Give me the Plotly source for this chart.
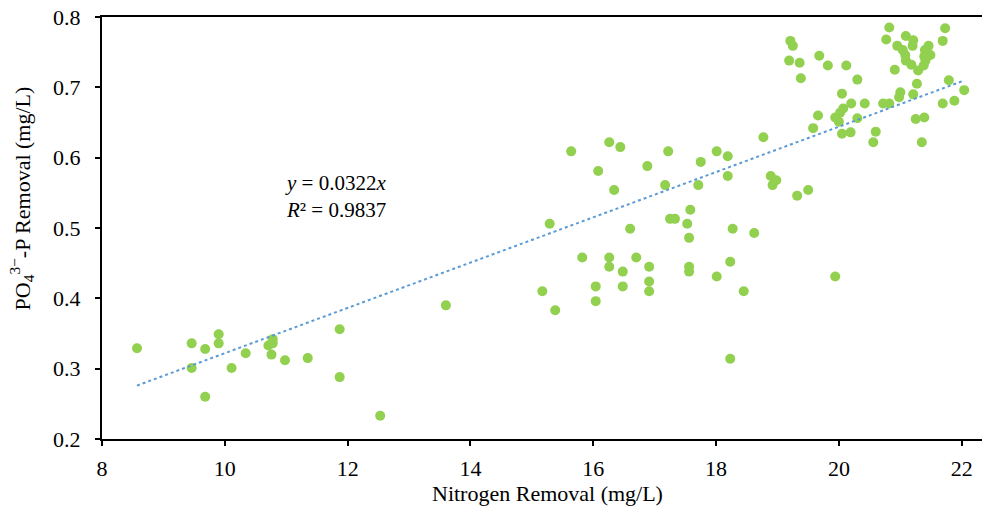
import plotly.graph_objects as go

# Nitrogen removal (mg/L) and PO4-P removal (mg/L)
nitrogen = [
    8.57, 9.46, 9.46, 9.68, 9.68, 9.90, 9.90, 10.11, 10.34, 10.71, 10.78, 10.78, 10.76, 10.98, 11.35, 11.87, 11.87, 12.53, 13.60,
    16.26, 16.44, 15.64, 16.88, 16.08, 16.34, 15.29, 16.60, 15.82, 16.26, 16.26, 16.70, 16.48, 16.91, 16.91, 16.91, 16.04, 16.48, 16.04, 15.17, 15.38,
    17.22, 17.75, 18.01, 18.19, 18.19, 17.17, 17.71, 18.77, 18.89, 18.98, 18.92, 19.32, 19.50, 17.58, 17.25, 17.33, 17.53, 17.56, 18.27, 18.62,
    17.56, 17.56, 18.23, 18.01, 18.45, 19.94, 18.23,
    20.82, 21.73, 20.77, 21.69, 19.21, 19.25, 21.09, 21.21, 20.95, 21.20, 21.04, 21.08, 21.46, 21.40, 21.49, 21.39, 21.09, 21.18, 21.41, 21.38,
    21.29, 20.91, 19.19, 19.36, 19.68, 19.82, 20.12, 19.38, 20.30, 20.05, 21.27, 21.79, 22.04, 21.00, 20.98, 21.21, 21.69, 21.88, 20.72, 20.82,
    20.42, 20.20, 20.07, 20.02, 19.94, 20.00, 20.30, 19.66, 19.58, 20.05, 20.19, 20.60, 20.56, 21.25, 21.39, 21.35,
]
phosphate = [
    0.329, 0.336, 0.301, 0.328, 0.260, 0.349, 0.336, 0.301, 0.322, 0.333, 0.342, 0.336, 0.320, 0.312, 0.315, 0.356, 0.288, 0.233, 0.390,
    0.622, 0.615, 0.609, 0.588, 0.581, 0.554, 0.506, 0.499, 0.458, 0.458, 0.445, 0.458, 0.438, 0.445, 0.424, 0.410, 0.417, 0.417, 0.396, 0.410, 0.383,
    0.609, 0.594, 0.609, 0.602, 0.574, 0.561, 0.561, 0.629, 0.574, 0.568, 0.561, 0.546, 0.554, 0.526, 0.513, 0.513, 0.506, 0.486, 0.499, 0.493,
    0.445, 0.438, 0.452, 0.431, 0.410, 0.431, 0.314,
    0.785, 0.784, 0.768, 0.766, 0.766, 0.759, 0.773, 0.767, 0.759, 0.759, 0.753, 0.746, 0.759, 0.753, 0.746, 0.744, 0.738, 0.732, 0.738, 0.731,
    0.724, 0.725, 0.738, 0.735, 0.745, 0.731, 0.731, 0.713, 0.711, 0.691, 0.705, 0.710, 0.696, 0.693, 0.686, 0.690, 0.677, 0.681, 0.677, 0.677,
    0.677, 0.677, 0.670, 0.664, 0.657, 0.651, 0.656, 0.660, 0.642, 0.634, 0.636, 0.637, 0.622, 0.655, 0.657, 0.622,
]

slope = 0.0322
r_squared = 0.9837

x_ticks = [8, 10, 12, 14, 16, 18, 20, 22]
y_ticks = [0.2, 0.3, 0.4, 0.5, 0.6, 0.7, 0.8]

x_title = "Nitrogen Removal (mg/L)"
y_title = "PO<sub>4</sub><sup>3−</sup>-P Removal (mg/L)"

trend_x = [min(nitrogen), max(nitrogen)]
trend_y = [slope * v for v in trend_x]

FONT = "Liberation Serif, Times New Roman, serif"

fig = go.Figure()
fig.add_trace(go.Scatter(
    x=nitrogen, y=phosphate, mode="markers",
    marker=dict(color="#92D050", size=10, line=dict(width=0)),
    showlegend=False, hoverinfo="skip",
))
fig.add_trace(go.Scatter(
    x=trend_x, y=trend_y, mode="lines",
    line=dict(color="#5B9BD5", width=2, dash="dot"),
    showlegend=False, hoverinfo="skip",
))

fig.add_annotation(
    x=10.95, y=0.545, xref="x", yref="y", xanchor="left", yanchor="middle",
    text=f"<i>y</i> = {slope}<i>x</i><br><i>R</i>² = {r_squared}",
    showarrow=False, align="left",
    font=dict(family=FONT, size=21, color="#000000"),
)
# axis titles
fig.add_annotation(
    x=0.506, y=-0.13, xref="paper", yref="paper", xanchor="center", yanchor="middle",
    text=x_title, showarrow=False,
    font=dict(family=FONT, size=22, color="#000000"),
)
fig.add_annotation(
    x=-0.091, y=0.57, xref="paper", yref="paper", xanchor="center", yanchor="middle",
    text=y_title, showarrow=False, textangle=-90,
    font=dict(family=FONT, size=22, color="#000000"),
)

fig.update_layout(
    width=982, height=512,
    margin=dict(l=102, r=0, t=17, b=73, autoexpand=False),
    paper_bgcolor="white", plot_bgcolor="white",
    font=dict(family=FONT, color="#000000"),
)
fig.update_xaxes(
    range=[8, 22.33], tickvals=x_ticks, ticktext=[str(v) for v in x_ticks],
    showgrid=False, zeroline=False,
    showline=True, linecolor="black", linewidth=2, mirror=True,
    ticks="outside", ticklen=5, tickwidth=2, tickcolor="black",
    tickfont=dict(family=FONT, size=22), ticklabelstandoff=4,
)
fig.update_yaxes(
    range=[0.2, 0.8], tickvals=y_ticks, ticktext=[f"{v:.1f}" for v in y_ticks],
    showgrid=False, zeroline=False,
    showline=True, linecolor="black", linewidth=2, mirror=False,
    ticks="outside", ticklen=5, tickwidth=2, tickcolor="black",
    tickfont=dict(family=FONT, size=22), ticklabelstandoff=10,
)

fig.write_html(
    "out.html",
    config={"displayModeBar": False},
    post_script="document.body.style.margin='0';document.body.style.overflow='hidden';",
)
